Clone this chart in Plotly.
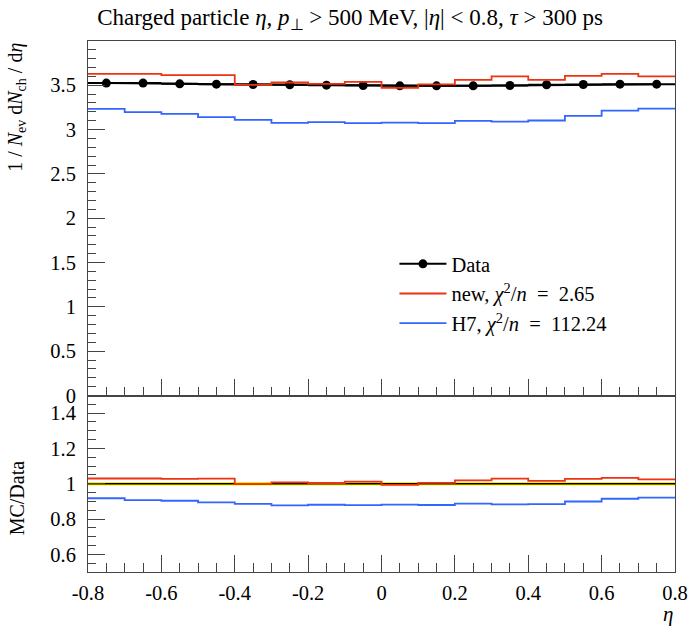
import plotly.graph_objects as go

# ---- data ----
bin_edges = [-0.8, -0.7, -0.6, -0.5, -0.4, -0.3, -0.2, -0.1, 0.0,
             0.1, 0.2, 0.3, 0.4, 0.5, 0.6, 0.7, 0.8]
data_vals = [3.524, 3.524, 3.516, 3.512, 3.508, 3.505, 3.501, 3.497,
             3.493, 3.493, 3.493, 3.497, 3.505, 3.508, 3.512, 3.512]
data_err = [0.036] * 16
new_vals = [3.629, 3.629, 3.614, 3.614, 3.505, 3.531, 3.516, 3.538,
            3.471, 3.510, 3.561, 3.599, 3.561, 3.606, 3.629, 3.599]
h7_vals = [3.234, 3.196, 3.177, 3.140, 3.109, 3.076, 3.084, 3.072,
           3.079, 3.072, 3.098, 3.090, 3.102, 3.155, 3.214, 3.237]
x_tickvals = [-0.8, -0.6, -0.4, -0.2, 0.0, 0.2, 0.4, 0.6, 0.8]
x_ticktext = ["-0.8", "-0.6", "-0.4", "-0.2", "0", "0.2", "0.4", "0.6", "0.8"]

RED = "#EE3311"
BLUE = "#3366FF"
FONT = "Liberation Serif"
FRAME = "#444444"
EQ = "\u2002=\u2002"

centers = [(bin_edges[i] + bin_edges[i + 1]) / 2 for i in range(len(data_vals))]
half_w = [(bin_edges[i + 1] - bin_edges[i]) / 2 for i in range(len(data_vals))]


def step(vals):
    return list(vals) + [vals[-1]]


fig = go.Figure()

# main panel
fig.add_trace(go.Scatter(x=centers, y=data_vals, mode="lines+markers",
                         line=dict(color="black", width=2),
                         marker=dict(color="black", size=9),
                         error_x=dict(type="data", array=half_w, width=0, thickness=2, color="black"),
                         error_y=dict(type="data", array=data_err, width=0, thickness=2, color="black"),
                         name="Data", xaxis="x", yaxis="y"))
fig.add_trace(go.Scatter(x=bin_edges, y=step(new_vals), mode="lines", line_shape="hv",
                         line=dict(color=RED, width=1.8),
                         name="new, <i>χ</i><sup>2</sup>/<i>n</i>" + EQ + "2.65",
                         xaxis="x", yaxis="y"))
fig.add_trace(go.Scatter(x=bin_edges, y=step(h7_vals), mode="lines", line_shape="hv",
                         line=dict(color=BLUE, width=1.8),
                         name="H7, <i>χ</i><sup>2</sup>/<i>n</i>" + EQ + "112.24",
                         xaxis="x", yaxis="y"))

# ratio panel
r_lo = [(d - e) / d for d, e in zip(data_vals, data_err)]
r_hi = [(d + e) / d for d, e in zip(data_vals, data_err)]
r_one = [d / d for d in data_vals]
r_new = [n / d for n, d in zip(new_vals, data_vals)]
r_h7 = [h / d for h, d in zip(h7_vals, data_vals)]

fig.add_trace(go.Scatter(x=bin_edges, y=step(r_lo), mode="lines", line_shape="hv",
                         line=dict(color="rgba(0,0,0,0)", width=0), showlegend=False,
                         xaxis="x2", yaxis="y2", hoverinfo="skip"))
fig.add_trace(go.Scatter(x=bin_edges, y=step(r_hi), mode="lines", line_shape="hv",
                         line=dict(color="rgba(0,0,0,0)", width=0), fill="tonexty",
                         fillcolor="#FFEE00", showlegend=False,
                         xaxis="x2", yaxis="y2", hoverinfo="skip"))
fig.add_trace(go.Scatter(x=bin_edges, y=step(r_one), mode="lines", line_shape="hv",
                         line=dict(color="black", width=1.5), showlegend=False,
                         xaxis="x2", yaxis="y2"))
fig.add_trace(go.Scatter(x=bin_edges, y=step(r_new), mode="lines", line_shape="hv",
                         line=dict(color=RED, width=1.8), showlegend=False,
                         xaxis="x2", yaxis="y2"))
fig.add_trace(go.Scatter(x=bin_edges, y=step(r_h7), mode="lines", line_shape="hv",
                         line=dict(color=BLUE, width=1.8), showlegend=False,
                         xaxis="x2", yaxis="y2"))

ratio_frac = 176.5 / 531
TICKFONT = dict(family=FONT, size=20.5, color="black")

common_x = dict(range=[-0.8, 0.8], tickvals=x_tickvals, ticktext=x_ticktext,
                ticks="inside", ticklen=17, tickcolor=FRAME, tickwidth=1,
                minor=dict(dtick=0.05, tick0=0, ticks="inside", ticklen=9, tickcolor=FRAME),
                showline=True, linecolor=FRAME, linewidth=1, mirror=True,
                showgrid=False, zeroline=False, tickfont=TICKFONT)

fig.update_layout(
    width=700, height=632,
    margin=dict(l=88, r=22, t=41, b=60),
    paper_bgcolor="white", plot_bgcolor="white",
    font=dict(family=FONT, size=20, color="black"),
    showlegend=True,
    legend=dict(x=(396 - 88) / 590, y=(572 - 244) / 531, xanchor="left", yanchor="top",
                bgcolor="rgba(0,0,0,0)", borderwidth=0, traceorder="normal",
                itemwidth=47,
                font=dict(family=FONT, size=20.5, color="black"), tracegroupgap=0),
    title=dict(text="Charged particle <i>η</i>, <i>p</i><sub>⊥</sub> > 500 MeV, |<i>η</i>| < 0.8, <i>τ</i> > 300 ps",
               x=0.5, xref="container", xanchor="center",
               y=1 - 17 / 632, yref="container", yanchor="middle",
               font=dict(family=FONT, size=23, color="black")),
    xaxis=dict(**common_x, domain=[0, 1], anchor="y", matches="x2", showticklabels=False),
    xaxis2=dict(**common_x, domain=[0, 1], anchor="y2", ticklabelstandoff=2),
    yaxis=dict(domain=[ratio_frac, 1], range=[0, 3.999], dtick=0.5, tick0=0,
               ticks="inside", ticklen=17, tickcolor=FRAME,
               minor=dict(dtick=0.1, tick0=0, ticks="inside", ticklen=8, tickcolor=FRAME),
               showline=True, linecolor=FRAME, linewidth=1, mirror=True,
               showgrid=False, zeroline=False, ticklabelstandoff=7, tickfont=TICKFONT),
    yaxis2=dict(domain=[0, ratio_frac], range=[0.5, 1.5], dtick=0.2, tick0=0.6,
                ticks="inside", ticklen=17, tickcolor=FRAME,
                minor=dict(dtick=0.05, tick0=0.5, ticks="inside", ticklen=8, tickcolor=FRAME),
                showline=True, linecolor=FRAME, linewidth=1, mirror=True,
                showgrid=False, zeroline=False, ticklabelstandoff=7, tickfont=TICKFONT),
)

fig.add_annotation(text="1 / <i>N</i><sub>ev</sub> d<i>N</i><sub>ch</sub> / d<i>η</i>",
                   xref="paper", yref="paper", x=(16 - 88) / 590, y=1.0,
                   xanchor="center", yanchor="top", textangle=-90, showarrow=False,
                   font=dict(family=FONT, size=20, color="black"))
fig.add_annotation(text="MC/Data", xref="paper", yref="paper",
                   x=(17 - 88) / 590, y=(572 - 498) / 531,
                   xanchor="center", yanchor="middle", textangle=-90, showarrow=False,
                   font=dict(family=FONT, size=20, color="black"))
fig.add_annotation(text="<i>η</i>", xref="paper", yref="paper",
                   x=1.0, y=(572 - 614) / 531, xanchor="right", yanchor="middle",
                   showarrow=False, font=dict(family=FONT, size=21, color="black"))

fig.write_html("out.html")
